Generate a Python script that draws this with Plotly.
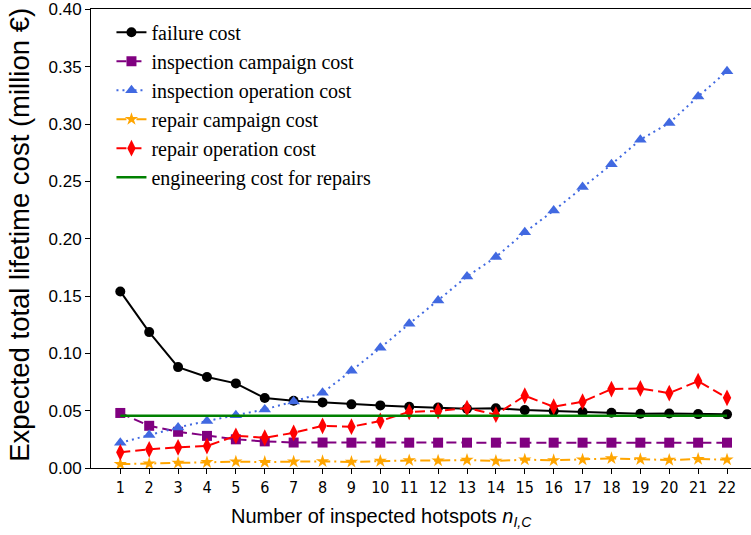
import plotly.graph_objects as go

# number of inspected hotspots
hotspots = list(range(1, 23))

failure_cost = [0.154, 0.1185, 0.088, 0.0793, 0.0738, 0.061, 0.0586, 0.0572, 0.0555, 0.0546, 0.0534,
                0.0528, 0.0517, 0.0520, 0.0505, 0.0497, 0.0488, 0.0482, 0.0473, 0.0476, 0.0470, 0.0468]
inspection_campaign_cost = [0.048, 0.0368, 0.0316, 0.0280, 0.0250, 0.0232, 0.0222, 0.0222, 0.0221, 0.0221, 0.0221,
                            0.0221, 0.0221, 0.0221, 0.0221, 0.0221, 0.0221, 0.0221, 0.0221, 0.0221, 0.0221, 0.0221]
inspection_operation_cost = [0.022, 0.0287, 0.0354, 0.0410, 0.0459, 0.0511, 0.0580, 0.0656, 0.0848, 0.1048, 0.1257,
                             0.1460, 0.1670, 0.1840, 0.2056, 0.2245, 0.2450, 0.2648, 0.2863, 0.3008, 0.3240, 0.3460]
repair_campaign_cost = [0.0034, 0.0038, 0.0044, 0.0050, 0.0055, 0.0052, 0.0055, 0.0058, 0.0053, 0.0061, 0.0066,
                        0.0064, 0.0070, 0.0061, 0.0073, 0.0067, 0.0073, 0.0084, 0.0076, 0.0070, 0.0078, 0.0073]
repair_operation_cost = [0.0137, 0.0163, 0.0180, 0.0192, 0.0281, 0.0264, 0.0307, 0.0368, 0.0360, 0.0410, 0.0490,
                         0.0497, 0.0523, 0.0465, 0.0630, 0.0534, 0.0578, 0.0688, 0.0694, 0.0653, 0.0758, 0.0612]
engineering_cost = [0.0456] * 22

y_ticks = [0.0, 0.05, 0.10, 0.15, 0.20, 0.25, 0.30, 0.35, 0.40]

fig = go.Figure()

series = [
    ("failure cost", failure_cost, "black", "solid", "circle", 10),
    ("inspection campaign cost", inspection_campaign_cost, "purple", "10px,5px", "square", 10),
    ("inspection operation cost", inspection_operation_cost, "royalblue", "2px,4px", "triangle-up", 11),
    ("repair campaign cost", repair_campaign_cost, "orange", "10px,4px,2px,4px", "star", 10),
    ("repair operation cost", repair_operation_cost, "red", "10px,5px", "diamond-tall", 12),
]
for name, vals, color, dash, symbol, size in series:
    fig.add_trace(go.Scatter(
        x=hotspots,
        y=vals,
        mode="lines+markers",
        name=name,
        line=dict(color=color, width=2, dash=dash),
        marker=dict(symbol=symbol, size=size, color=color, line=dict(width=0)),
    ))

fig.add_trace(go.Scatter(
    x=hotspots,
    y=engineering_cost,
    mode="lines",
    name="engineering cost for repairs",
    line=dict(color="green", width=2.5),
))

fig.update_layout(
    width=751,
    height=535,
    margin=dict(l=91, r=0, t=9, b=67),
    plot_bgcolor="white",
    paper_bgcolor="white",
    showlegend=True,
    legend=dict(
        x=0.031,
        y=0.992,
        xanchor="left",
        yanchor="top",
        bgcolor="rgba(0,0,0,0)",
        font=dict(family="Liberation Serif", size=20, color="black"),
        itemwidth=30,
        tracegroupgap=0,
    ),
    xaxis=dict(
        range=[-0.014, 22.83],
        tickmode="array",
        tickvals=hotspots,
        ticks="outside",
        ticklen=5,
        tickcolor="black",
        showline=True,
        linecolor="black",
        linewidth=1,
        mirror=True,
        showgrid=False,
        zeroline=False,
        tickfont=dict(family="DejaVu Sans Condensed, DejaVu Sans", size=16, color="black"),
    ),
    yaxis=dict(
        range=[0, 0.4003],
        tickmode="array",
        tickvals=y_ticks,
        tickformat=".2f",
        ticks="outside",
        ticklen=5,
        tickcolor="black",
        showline=True,
        linecolor="black",
        linewidth=1,
        showgrid=False,
        zeroline=False,
        tickfont=dict(family="Liberation Sans, Arial", size=17, color="black"),
    ),
    annotations=[
        dict(
            text="Number of inspected hotspots <i>n</i><sub><i>I,C</i></sub>",
            xref="paper", yref="paper", x=0.44, y=-0.107,
            xanchor="center", yanchor="middle", showarrow=False,
            font=dict(family="Liberation Sans, Arial", size=20, color="black"),
        ),
        dict(
            text="Expected total lifetime cost (million €)",
            xref="paper", yref="paper", x=-0.1076, y=0.508,
            xanchor="center", yanchor="middle", textangle=-90, showarrow=False,
            font=dict(family="Liberation Sans, Arial", size=27.5, color="black"),
        ),
    ],
)

# page body has a default 8px margin; drop it so the figure sits at the window origin
fig.write_html(
    "out.html",
    config={"displayModeBar": False},
    post_script="document.body.style.margin='0';",
)
